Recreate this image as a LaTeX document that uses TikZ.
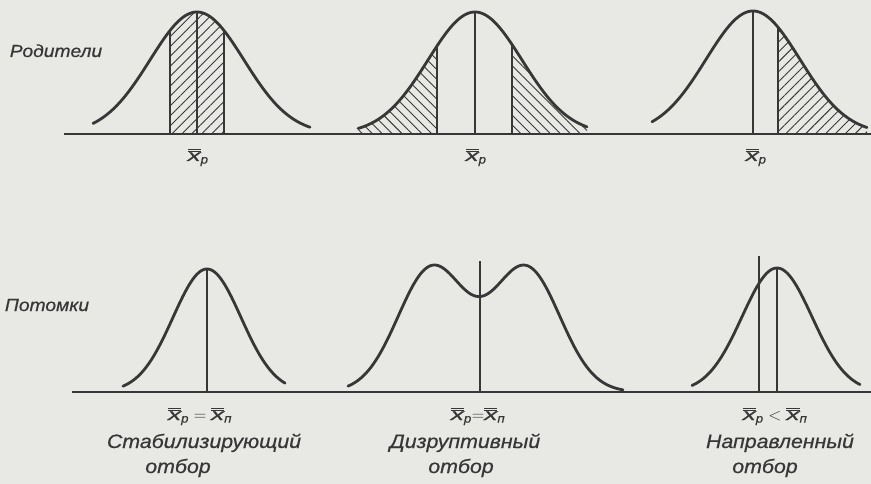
\documentclass[tikz,border=0pt]{standalone}
\usepackage{graphicx}
\usepackage{fontspec}
\newfontfamily\labfam[FakeStretch=1.1,FakeBold=0.6]{Liberation Sans}
\newcommand\labf{\labfam\itshape}
\usetikzlibrary{patterns.meta}
\definecolor{ink}{RGB}{55,55,55}
\definecolor{paper}{RGB}{232,232,229}
\newcommand\xmean{\overline{\overline{\mbox{\labf\scalebox{1.45}[1]{x}}}}}
\newcommand\subp{\mbox{\labf\fontsize{12}{13}\selectfont р}}
\newcommand\subn{\mbox{\labf\fontsize{12}{13}\selectfont п}}
\begin{document}
\begin{tikzpicture}[x=1pt,y=-1pt,
  declare function={g(\t,\s)=exp(-((\t/\s)^2)/2);},
  curve/.style={ink, line width=2.8pt, line cap=round, line join=round},
  vline/.style={ink, line width=1.4pt},
  axisline/.style={ink, line width=2pt},
  hatchR/.style={pattern={Lines[angle=45,distance=7pt,line width=0.9pt]}, pattern color=ink},
  hatchL/.style={pattern={Lines[angle=-45,distance=7pt,line width=0.9pt]}, pattern color=ink},
  lbl/.style={font=\labf\fontsize{17.5}{20}\selectfont, text=ink, inner sep=0pt, anchor=base},
  mlbl/.style={font=\labf\fontsize{16.5}{18}\selectfont, text=ink, inner sep=0pt, anchor=base},
  captxt/.style={font=\labf\fontsize{19.4}{22}\selectfont, text=ink, inner sep=0pt, anchor=base}]
\fill[paper] (0,0) rectangle (871,484);
\useasboundingbox (0,0) rectangle (871,484);

% ---------- top row: parents ----------
\draw[axisline] (64,134) -- (871,134);
% curve 1 (stabilizing)
\fill[hatchR] plot[domain=-27:27,samples=30] ({197+\x},{134-122*g(\x,47)}) -- (224,134) -- (170,134) -- cycle;
\draw[curve] plot[domain=-104:113,samples=90] ({197+\x},{134-122*g(\x,47)});
\draw[vline] (170,134) -- (170,{134-122*g(-27,47)});
\draw[vline] (224,134) -- (224,{134-122*g(27,47)});
\draw[vline] (197,134) -- (197,12);
% curve 2 (disruptive)
\fill[hatchL] plot[domain=-117:-38,samples=40] ({475+\x},{134-122*g(\x,47)}) -- (437,134) -- (358,134) -- cycle;
\fill[hatchL] plot[domain=37:112,samples=40] ({475+\x},{134-122*g(\x,47)}) -- (587,134) -- (512,134) -- cycle;
\draw[curve] plot[domain=-117:112,samples=90] ({475+\x},{134-122*g(\x,47)});
\draw[vline] (437,134) -- (437,{134-122*g(-38,47)});
\draw[vline] (512,134) -- (512,{134-122*g(37,47)});
\draw[vline] (475,134) -- (475,12);
% curve 3 (directional)
\fill[hatchR] plot[domain=25:114,samples=40] ({753+\x},{134-123*g(\x,47)}) -- (867,134) -- (778,134) -- cycle;
\draw[curve] plot[domain=-101:114,samples=90] ({753+\x},{134-123*g(\x,47)});
\draw[vline] (778,134) -- (778,{134-123*g(25,47)});
\draw[vline] (753,134) -- (753,11);

\node[lbl] (par) at (56,57) {Родители};
\node[mlbl] (m1) at (198,161) {$\xmean_{\subp}$};
\node[mlbl] (m2) at (476,161) {$\xmean_{\subp}$};
\node[mlbl] (m3) at (756,161) {$\xmean_{\subp}$};

% ---------- bottom row: offspring ----------
\draw[axisline] (72,392) -- (871,392);
% stabilizing
\draw[curve] plot[domain=-84:78,samples=80] ({207+\x},{392-123*g(\x,34)});
\draw[vline] (207,392) -- (207,269);
% disruptive
\draw[curve] plot[domain=-131:144,samples=120] ({479+\x},{392-124*(g(\x-47,34)+g(\x+47,34))});
\draw[vline] (480,392) -- (480,261);
% directional
\draw[curve] plot[domain=-85:83,samples=80] ({777+\x},{392-124*g(\x,35)});
\draw[vline] (759,392) -- (759,256);
\draw[vline] (777,392) -- (777,268);

\node[lbl] (off) at (47,311) {Потомки};
\node[mlbl] (e1) at (200,420) {$\xmean_{\subp}=\xmean_{\subn}$};
\node[mlbl] (e2) at (478,420) {$\xmean_{\subp}{=}\xmean_{\subn}$};
\node[mlbl] (e3) at (775,420) {$\xmean_{\subp}<\xmean_{\subn}$};
\node[captxt] (c1a) at (204,448) {Стабилизирующий};
\node[captxt] (c1b) at (178,473) {отбор};
\node[captxt] (c2a) at (465,448) {Дизруптивный};
\node[captxt] (c2b) at (461,473) {отбор};
\node[captxt] (c3a) at (780,448) {Направленный};
\node[captxt] (c3b) at (765,473) {отбор};
\end{tikzpicture}
\end{document}
